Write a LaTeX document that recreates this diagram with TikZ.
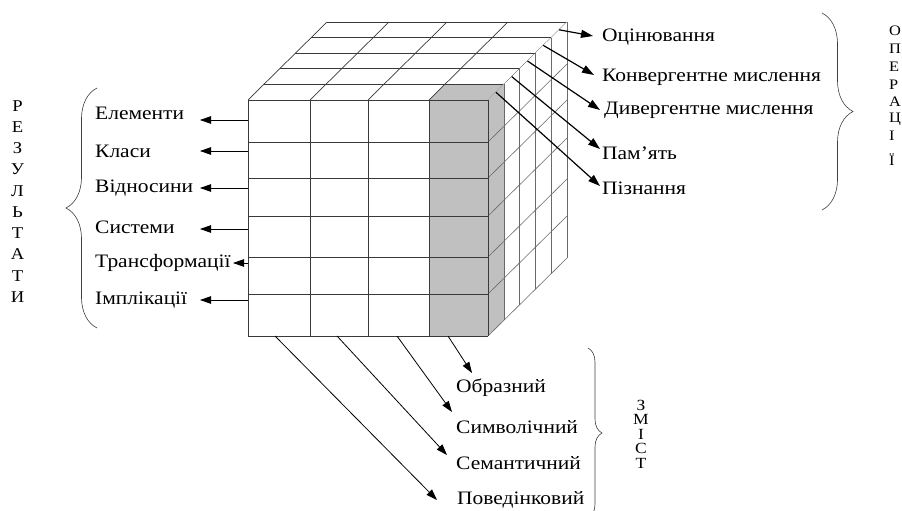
\documentclass[tikz,border=0pt]{standalone}
\usepackage{fontspec}
\setmainfont[FakeStretch=1.13]{Liberation Serif}
\usetikzlibrary{arrows.meta,decorations.pathreplacing,calc}
\definecolor{cubeline}{HTML}{3A3A3A}
\definecolor{faceline}{HTML}{6A6A6A}
\definecolor{slab}{HTML}{C0C0C0}
\begin{document}
\begin{tikzpicture}[x=1pt,y=-1pt,
  grid/.style={draw=cubeline,line width=0.7pt},
  sgrid/.style={draw=faceline,line width=0.6pt},
  lab/.style={anchor=west,inner sep=0pt,font=\fontsize{19}{21}\selectfont},
  vlet/.style={inner sep=0pt,font=\fontsize{16.5}{18}\selectfont},
  arr/.style={-{Triangle[length=11pt,width=7.5pt]},line width=0.8pt,draw=black},
  tarr/.style={-{Triangle[length=12pt,width=8pt]},line width=1.2pt,draw=black},
  bracestyle/.style={draw=black!75,line width=0.6pt,decorate}]
\useasboundingbox (0,0) rectangle (902,511);
\clip (0,0) rectangle (902,511);
\fill[white] (0,0) rectangle (902,511);

% ---------- top face ----------
\fill[white] (248,100) -- (488,100) -- (567,22) -- (327,22) -- cycle;
\fill[slab] (429,100) -- (488,100) -- (503.8,84.4) -- (444.8,84.4) -- cycle;
\foreach \k in {0,...,5}
  \draw[grid] ({248+15.8*\k},{100-15.6*\k}) -- ({488+15.8*\k},{100-15.6*\k});
\foreach \x in {248,310,368,429,488}
  \draw[grid] (\x,100) -- ({\x+79},22);

% ---------- right face ----------
\fill[white] (488,100) -- (567,22) -- (567,258) -- (488,336) -- cycle;
\fill[slab] (488,100) -- (503.8,84.4) -- (503.8,320.4) -- (488,336) -- cycle;
\foreach \k in {1,...,5}
  \draw[sgrid] ({488+15.8*\k},{100-15.6*\k}) -- ({488+15.8*\k},{336-15.6*\k});
\foreach \y in {142,178,216,257,294,336}
  \draw[sgrid] (488,\y) -- (567,{\y-78});

% ---------- front face ----------
\fill[white] (248,100) rectangle (488,336);
\fill[slab] (429,100) rectangle (488,336);
\foreach \y in {100,142,178,216,257,294,336}
  \draw[grid] (248,\y) -- (488,\y);
\foreach \x in {248,310,368,429,488}
  \draw[grid] (\x,100) -- (\x,336);

% ---------- connector anchors on the cube ----------
\foreach \k/\n in {4/s1,3/s2,2/s3,1/s4,0/s5}
  \coordinate (\n) at ({488+15.8*(\k+0.5)},{100-15.6*(\k+0.5)});
\foreach \y/\n in {120/e1,151/e2,188/e3,229/e4,263/e5,300/e6}
  \coordinate (\n) at (248,\y);
\foreach \x/\n in {275/b4,337/b3,397/b2,448/b1}
  \coordinate (\n) at (\x,336);

% ---------- right labels (operations) ----------
\node[lab] (ocin) at (602,37) {Оцінювання};
\node[lab] (konv) at (602,77) {Конвергентне мислення};
\node[lab] (dyv)  at (604,110) {Дивергентне мислення};
\node[lab] (pam)  at (602,153) {Пам’ять};
\node[lab] (pizn) at (602,188) {Пізнання};
\coordinate (t1) at (593,36);
\coordinate (t2) at (594,75);
\coordinate (t3) at (600,110);
\coordinate (t4) at (600,149);
\coordinate (t5) at (600,186);
\foreach \i in {1,...,5} \draw[tarr] (s\i) -- (t\i);

% ---------- left labels (results) ----------
\node[lab] (el) at (95,113) {Елементи};
\node[lab] (kl) at (95,151) {Класи};
\node[lab] (vd) at (95,188) {Відносини};
\node[lab] (sy) at (95,227) {Системи};
\node[lab] (tr) at (95,263) {Трансформації};
\node[lab] (im) at (95,300) {Імплікації};
\coordinate (f1) at (200,120);
\coordinate (f2) at (200,151);
\coordinate (f3) at (200,188);
\coordinate (f4) at (200,229);
\coordinate (f5) at (233,263);
\coordinate (f6) at (200,300);
\foreach \i in {1,...,6} \draw[arr] (e\i) -- (f\i);

% ---------- bottom labels (content) ----------
\node[lab] (obr) at (456,388) {Образний};
\node[lab] (sym) at (456,427) {Символічний};
\node[lab] (sem) at (456,463) {Семантичний};
\node[lab] (pov) at (457,500) {Поведінковий};
\coordinate (g1) at (472,373);
\coordinate (g2) at (452,412);
\coordinate (g3) at (447,455);
\coordinate (g4) at (437,500);
\foreach \i in {1,...,4} \draw[arr] (b\i) -- (g\i);

% ---------- braces ----------
\draw[bracestyle,decoration={brace,amplitude=31pt}] (97,328) -- (97,88);
\draw[bracestyle,decoration={brace,amplitude=31pt}] (822,13) -- (822,210);
\draw[bracestyle,decoration={brace,amplitude=14pt}] (588,348) -- (588,518);

% ---------- vertical words ----------
\foreach \l [count=\i from 0] in {Р,Е,З,У,Л,Ь,Т,А,Т,И}
  \node[vlet] (r\i) at (17.5,{106+21.2*\i}) {\l};
\foreach \l/\y [count=\i] in {О/31,П/49,Е/67,Р/85,А/102,Ц/119,І/136,Ї/160}
  \node[vlet,anchor=west,font=\fontsize{14.5}{16}\selectfont] (o\i) at (889,\y) {\l};
\foreach \l [count=\i from 0] in {З,М,І,С,Т}
  \node[vlet,font=\fontsize{15.5}{17}\selectfont] (z\i) at (641,{405+14.6*\i}) {\l};
\end{tikzpicture}
\end{document}
